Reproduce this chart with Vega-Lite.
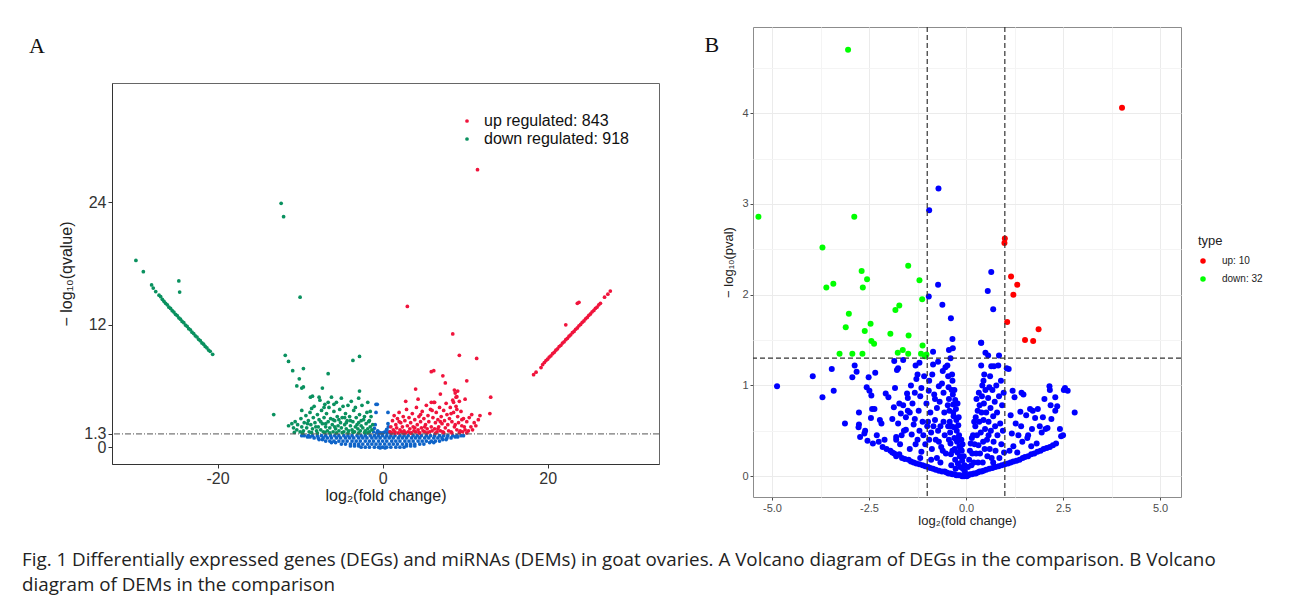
{
"$schema": "https://vega.github.io/schema/vega-lite/v6.json",
"padding": {"left": 22, "top": 25, "right": 5, "bottom": 5},
"background": "white",
"config": {"font": "Liberation Sans", "view": {"stroke": null}},
"title": {"text": ["Fig. 1 Differentially expressed genes (DEGs) and miRNAs (DEMs) in goat ovaries. A Volcano diagram of DEGs in the comparison. B Volcano", "diagram of DEMs in the comparison"], "orient": "bottom", "anchor": "start", "font": "Open Sans", "fontSize": 18.8, "fontWeight": "normal", "color": "#222", "lineHeight": 25, "offset": 23, "dx": -7},
"spacing": 44,
"resolve": {"scale": {"color": "independent", "size": "independent"}, "legend": {"color": "independent"}},
"datasets": {
"ar": [{"y": 1.3}],
"bv": [{"x": -1}, {"x": 1}],
"bh": [{"y": 1.3}],
"a": [
{"x":-0.3,"y":-0.08,"t":"n"},{"x":0.3,"y":-0.08,"t":"n"},
{"x":-2.6,"y":0,"t":"n"},{"x":-2.1,"y":0,"t":"n"},{"x":-1.6,"y":0,"t":"n"},{"x":-1.0,"y":0,"t":"n"},{"x":-0.5,"y":0,"t":"n"},{"x":0,"y":0,"t":"n"},{"x":0.5,"y":0,"t":"n"},{"x":1.0,"y":0,"t":"n"},{"x":1.6,"y":0,"t":"n"},{"x":2.1,"y":0,"t":"n"},{"x":2.6,"y":0,"t":"n"},
{"x":-3.9,"y":0.12,"t":"n"},{"x":-3.4,"y":0.12,"t":"n"},{"x":-2.9,"y":0.12,"t":"n"},{"x":2.9,"y":0.12,"t":"n"},{"x":3.4,"y":0.12,"t":"n"},{"x":3.9,"y":0.12,"t":"n"},
{"x":-5.0,"y":0.3,"t":"n"},{"x":-4.5,"y":0.3,"t":"n"},{"x":-3.9,"y":0.3,"t":"n"},{"x":-3.4,"y":0.3,"t":"n"},{"x":-2.9,"y":0.3,"t":"n"},{"x":-2.4,"y":0.3,"t":"n"},{"x":-1.8,"y":0.3,"t":"n"},{"x":-1.3,"y":0.3,"t":"n"},{"x":-0.8,"y":0.3,"t":"n"},{"x":-0.3,"y":0.3,"t":"n"},{"x":0.25,"y":0.3,"t":"n"},{"x":0.8,"y":0.3,"t":"n"},{"x":1.3,"y":0.3,"t":"n"},{"x":1.8,"y":0.3,"t":"n"},{"x":2.4,"y":0.3,"t":"n"},{"x":2.9,"y":0.3,"t":"n"},{"x":3.4,"y":0.3,"t":"n"},{"x":3.9,"y":0.3,"t":"n"},{"x":4.5,"y":0.3,"t":"n"},{"x":5.0,"y":0.3,"t":"n"},
{"x":-6.2,"y":0.45,"t":"n"},{"x":-5.7,"y":0.45,"t":"n"},{"x":5.7,"y":0.45,"t":"n"},{"x":6.2,"y":0.45,"t":"n"},
{"x":-6.9,"y":0.6,"t":"n"},{"x":-6.4,"y":0.6,"t":"n"},{"x":-5.9,"y":0.6,"t":"n"},{"x":-5.3,"y":0.6,"t":"n"},{"x":-4.8,"y":0.6,"t":"n"},{"x":-4.3,"y":0.6,"t":"n"},{"x":-3.7,"y":0.6,"t":"n"},{"x":-3.2,"y":0.6,"t":"n"},{"x":-2.7,"y":0.6,"t":"n"},{"x":-2.1,"y":0.6,"t":"n"},{"x":-1.6,"y":0.6,"t":"n"},{"x":-1.1,"y":0.6,"t":"n"},{"x":-0.5,"y":0.6,"t":"n"},{"x":0,"y":0.6,"t":"n"},{"x":0.5,"y":0.6,"t":"n"},{"x":1.1,"y":0.6,"t":"n"},{"x":1.6,"y":0.6,"t":"n"},{"x":2.1,"y":0.6,"t":"n"},{"x":2.7,"y":0.6,"t":"n"},{"x":3.2,"y":0.6,"t":"n"},{"x":3.7,"y":0.6,"t":"n"},{"x":4.3,"y":0.6,"t":"n"},{"x":4.8,"y":0.6,"t":"n"},{"x":5.3,"y":0.6,"t":"n"},{"x":5.9,"y":0.6,"t":"n"},{"x":6.4,"y":0.6,"t":"n"},{"x":6.9,"y":0.6,"t":"n"},
{"x":-7.7,"y":0.75,"t":"n"},{"x":-7.3,"y":0.75,"t":"n"},{"x":7.3,"y":0.75,"t":"n"},{"x":7.7,"y":0.75,"t":"n"},
{"x":-8.3,"y":0.9,"t":"n"},{"x":-7.8,"y":0.9,"t":"n"},{"x":-7.2,"y":0.9,"t":"n"},{"x":-6.7,"y":0.9,"t":"n"},{"x":-6.2,"y":0.9,"t":"n"},{"x":-5.6,"y":0.9,"t":"n"},{"x":-5.1,"y":0.9,"t":"n"},{"x":-4.5,"y":0.9,"t":"n"},{"x":-4.0,"y":0.9,"t":"n"},{"x":-3.5,"y":0.9,"t":"n"},{"x":-2.9,"y":0.9,"t":"n"},{"x":-2.4,"y":0.9,"t":"n"},{"x":-1.9,"y":0.9,"t":"n"},{"x":-1.3,"y":0.9,"t":"n"},{"x":-0.8,"y":0.9,"t":"n"},{"x":-0.3,"y":0.9,"t":"n"},{"x":0.3,"y":0.9,"t":"n"},{"x":0.8,"y":0.9,"t":"n"},{"x":1.3,"y":0.9,"t":"n"},{"x":1.9,"y":0.9,"t":"n"},{"x":2.4,"y":0.9,"t":"n"},{"x":2.9,"y":0.9,"t":"n"},{"x":3.5,"y":0.9,"t":"n"},{"x":4.0,"y":0.9,"t":"n"},{"x":4.5,"y":0.9,"t":"n"},{"x":5.1,"y":0.9,"t":"n"},{"x":5.6,"y":0.9,"t":"n"},{"x":6.2,"y":0.9,"t":"n"},{"x":6.7,"y":0.9,"t":"n"},{"x":7.2,"y":0.9,"t":"n"},{"x":7.8,"y":0.9,"t":"n"},{"x":8.3,"y":0.9,"t":"n"},
{"x":-9.1,"y":1.0,"t":"n"},{"x":-8.8,"y":1.0,"t":"n"},{"x":8.8,"y":1.0,"t":"n"},{"x":9.1,"y":1.0,"t":"n"},
{"x":-9.8,"y":1.12,"t":"n"},{"x":-9.5,"y":1.12,"t":"n"},{"x":-9.0,"y":1.12,"t":"n"},{"x":-8.5,"y":1.12,"t":"n"},{"x":-7.9,"y":1.12,"t":"n"},{"x":-7.4,"y":1.12,"t":"n"},{"x":-6.9,"y":1.12,"t":"n"},{"x":-6.3,"y":1.12,"t":"n"},{"x":-5.8,"y":1.12,"t":"n"},{"x":-5.3,"y":1.12,"t":"n"},{"x":-4.7,"y":1.12,"t":"n"},{"x":-4.2,"y":1.12,"t":"n"},{"x":-3.7,"y":1.12,"t":"n"},{"x":-3.1,"y":1.12,"t":"n"},{"x":-2.6,"y":1.12,"t":"n"},{"x":-2.1,"y":1.12,"t":"n"},{"x":-1.5,"y":1.12,"t":"n"},{"x":-1.0,"y":1.12,"t":"n"},{"x":-0.5,"y":1.12,"t":"n"},{"x":0,"y":1.12,"t":"n"},{"x":0.5,"y":1.12,"t":"n"},{"x":1.0,"y":1.12,"t":"n"},{"x":1.5,"y":1.12,"t":"n"},{"x":2.1,"y":1.12,"t":"n"},{"x":2.6,"y":1.12,"t":"n"},{"x":3.1,"y":1.12,"t":"n"},{"x":3.7,"y":1.12,"t":"n"},{"x":4.2,"y":1.12,"t":"n"},{"x":4.7,"y":1.12,"t":"n"},{"x":5.3,"y":1.12,"t":"n"},{"x":5.8,"y":1.12,"t":"n"},{"x":6.3,"y":1.12,"t":"n"},{"x":6.9,"y":1.12,"t":"n"},{"x":7.4,"y":1.12,"t":"n"},{"x":7.9,"y":1.12,"t":"n"},{"x":8.5,"y":1.12,"t":"n"},{"x":9.0,"y":1.12,"t":"n"},{"x":9.5,"y":1.12,"t":"n"},{"x":9.8,"y":1.12,"t":"n"},
{"x":-0.8,"y":4.2,"t":"n"},{"x":-0.65,"y":4.2,"t":"n"},{"x":-0.8,"y":3.4,"t":"n"},{"x":0.65,"y":3.4,"t":"n"},{"x":0.65,"y":2.3,"t":"n"},{"x":-0.9,"y":2.2,"t":"n"},{"x":-1.0,"y":1.85,"t":"n"},{"x":-0.6,"y":1.6,"t":"n"},{"x":0.5,"y":1.75,"t":"n"},{"x":0.3,"y":1.5,"t":"n"},{"x":-0.4,"y":1.45,"t":"n"},{"x":0.8,"y":1.5,"t":"n"},{"x":-1.1,"y":1.5,"t":"n"},{"x":0.7,"y":2.0,"t":"n"},{"x":-0.2,"y":1.4,"t":"n"},{"x":0.1,"y":1.42,"t":"n"},{"x":-0.7,"y":1.4,"t":"n"},{"x":0.55,"y":1.4,"t":"n"},
{"x":-12.3,"y":23.9,"t":"d"},{"x":-12.0,"y":22.6,"t":"d"},{"x":-10.0,"y":14.7,"t":"d"},{"x":-11.8,"y":9.0,"t":"d"},{"x":-11.4,"y":8.4,"t":"d"},{"x":-10.9,"y":7.5,"t":"d"},{"x":-9.6,"y":7.7,"t":"d"},{"x":-10.1,"y":6.7,"t":"d"},{"x":-10.4,"y":6.0,"t":"d"},{"x":-9.8,"y":5.8,"t":"d"},{"x":-9.6,"y":5.9,"t":"d"},{"x":-6.6,"y":7.2,"t":"d"},{"x":-3.6,"y":8.5,"t":"d"},{"x":-2.8,"y":8.9,"t":"d"},{"x":-2.8,"y":5.5,"t":"d"},{"x":-13.2,"y":3.2,"t":"d"},{"x":-7.3,"y":5.8,"t":"d"},{"x":-1.8,"y":4.4,"t":"d"},
{"x":-29.9,"y":18.3,"t":"d"},{"x":-29.0,"y":17.2,"t":"d"},{"x":-28.0,"y":15.9,"t":"d"},{"x":-27.8,"y":15.6,"t":"d"},{"x":-27.5,"y":15.25,"t":"d"},{"x":-27.1,"y":14.9,"t":"d"},{"x":-26.9,"y":14.75,"t":"d"},{"x":-26.7,"y":14.5,"t":"d"},{"x":-26.5,"y":14.3,"t":"d"},{"x":-24.7,"y":16.3,"t":"d"},{"x":-24.6,"y":15.2,"t":"d"},
{"x":-26.3,"y":14.1,"t":"d"},{"x":-26.1,"y":13.95,"t":"d"},{"x":-25.9,"y":13.72,"t":"d"},{"x":-25.7,"y":13.6,"t":"d"},{"x":-25.5,"y":13.38,"t":"d"},{"x":-25.3,"y":13.25,"t":"d"},{"x":-25.1,"y":13.02,"t":"d"},{"x":-24.9,"y":12.9,"t":"d"},{"x":-24.7,"y":12.68,"t":"d"},{"x":-24.5,"y":12.55,"t":"d"},{"x":-24.3,"y":12.33,"t":"d"},{"x":-24.1,"y":12.2,"t":"d"},{"x":-23.9,"y":11.97,"t":"d"},{"x":-23.7,"y":11.85,"t":"d"},{"x":-23.5,"y":11.62,"t":"d"},{"x":-23.3,"y":11.5,"t":"d"},{"x":-23.1,"y":11.27,"t":"d"},{"x":-22.9,"y":11.14,"t":"d"},{"x":-22.7,"y":10.92,"t":"d"},{"x":-22.5,"y":10.8,"t":"d"},{"x":-22.3,"y":10.57,"t":"d"},{"x":-22.1,"y":10.44,"t":"d"},{"x":-21.9,"y":10.22,"t":"d"},{"x":-21.7,"y":10.1,"t":"d"},{"x":-21.5,"y":9.87,"t":"d"},{"x":-21.3,"y":9.74,"t":"d"},{"x":-21.1,"y":9.52,"t":"d"},{"x":-20.9,"y":9.4,"t":"d"},{"x":-20.6,"y":9.1,"t":"d"},
{"x":-11.4,"y":2.1,"t":"d"},{"x":-11.0,"y":2.3,"t":"d"},{"x":-10.8,"y":1.9,"t":"d"},{"x":-10.6,"y":2.5,"t":"d"},{"x":-10.4,"y":1.7,"t":"d"},{"x":-10.3,"y":2.2,"t":"d"},{"x":-10.0,"y":1.5,"t":"d"},{"x":-9.9,"y":2.8,"t":"d"},{"x":-9.8,"y":2.0,"t":"d"},{"x":-9.6,"y":1.6,"t":"d"},{"x":-9.5,"y":2.4,"t":"d"},{"x":-9.3,"y":3.1,"t":"d"},{"x":-9.2,"y":1.9,"t":"d"},{"x":-9.0,"y":2.6,"t":"d"},{"x":-8.9,"y":1.5,"t":"d"},{"x":-8.8,"y":3.4,"t":"d"},{"x":-8.7,"y":2.2,"t":"d"},{"x":-8.5,"y":1.8,"t":"d"},{"x":-8.4,"y":2.9,"t":"d"},{"x":-8.3,"y":4.0,"t":"d"},{"x":-8.2,"y":2.4,"t":"d"},{"x":-8.0,"y":1.6,"t":"d"},{"x":-7.9,"y":3.2,"t":"d"},{"x":-7.8,"y":2.0,"t":"d"},{"x":-7.7,"y":2.7,"t":"d"},{"x":-7.6,"y":4.6,"t":"d"},{"x":-7.5,"y":1.7,"t":"d"},{"x":-7.4,"y":3.6,"t":"d"},{"x":-7.3,"y":2.3,"t":"d"},{"x":-7.2,"y":1.5,"t":"d"},{"x":-7.1,"y":2.9,"t":"d"},{"x":-7.0,"y":4.2,"t":"d"},{"x":-6.9,"y":2.0,"t":"d"},{"x":-6.8,"y":3.3,"t":"d"},{"x":-6.7,"y":1.6,"t":"d"},{"x":-6.6,"y":2.5,"t":"d"},{"x":-6.5,"y":3.9,"t":"d"},{"x":-6.4,"y":1.9,"t":"d"},{"x":-6.3,"y":2.8,"t":"d"},{"x":-6.2,"y":4.9,"t":"d"},{"x":-6.1,"y":2.2,"t":"d"},{"x":-6.0,"y":1.5,"t":"d"},{"x":-5.9,"y":3.5,"t":"d"},{"x":-5.8,"y":2.6,"t":"d"},{"x":-5.7,"y":1.8,"t":"d"},{"x":-5.6,"y":4.4,"t":"d"},{"x":-5.5,"y":3.0,"t":"d"},{"x":-5.4,"y":2.1,"t":"d"},{"x":-5.3,"y":1.6,"t":"d"},{"x":-5.2,"y":3.7,"t":"d"},{"x":-5.1,"y":2.4,"t":"d"},{"x":-5.0,"y":1.9,"t":"d"},{"x":-4.9,"y":2.9,"t":"d"},{"x":-4.8,"y":4.0,"t":"d"},{"x":-4.7,"y":1.5,"t":"d"},{"x":-4.6,"y":2.2,"t":"d"},{"x":-4.5,"y":3.3,"t":"d"},{"x":-4.4,"y":1.8,"t":"d"},{"x":-4.3,"y":2.6,"t":"d"},{"x":-4.1,"y":1.6,"t":"d"},{"x":-4.0,"y":3.0,"t":"d"},{"x":-3.9,"y":2.1,"t":"d"},{"x":-3.8,"y":4.5,"t":"d"},{"x":-3.7,"y":1.7,"t":"d"},{"x":-3.6,"y":2.5,"t":"d"},{"x":-3.5,"y":3.6,"t":"d"},{"x":-3.4,"y":1.5,"t":"d"},{"x":-3.3,"y":2.0,"t":"d"},{"x":-3.2,"y":2.9,"t":"d"},{"x":-3.0,"y":1.8,"t":"d"},{"x":-2.9,"y":2.4,"t":"d"},{"x":-2.8,"y":3.2,"t":"d"},{"x":-2.7,"y":1.6,"t":"d"},{"x":-2.6,"y":2.1,"t":"d"},{"x":-2.5,"y":4.1,"t":"d"},{"x":-2.4,"y":1.9,"t":"d"},{"x":-2.3,"y":2.7,"t":"d"},{"x":-2.1,"y":1.6,"t":"d"},{"x":-2.0,"y":2.3,"t":"d"},{"x":-1.9,"y":3.4,"t":"d"},{"x":-1.8,"y":1.8,"t":"d"},{"x":-1.7,"y":2.5,"t":"d"},{"x":-1.6,"y":1.5,"t":"d"},{"x":-1.5,"y":2.0,"t":"d"},{"x":-1.4,"y":3.0,"t":"d"},{"x":-1.3,"y":1.7,"t":"d"},{"x":-1.2,"y":2.2,"t":"d"},
{"x":-10.7,"y":1.45,"t":"d"},{"x":-9.7,"y":1.4,"t":"d"},{"x":-8.6,"y":1.42,"t":"d"},{"x":-7.9,"y":1.38,"t":"d"},{"x":-7.0,"y":1.45,"t":"d"},{"x":-6.4,"y":1.4,"t":"d"},{"x":-5.6,"y":1.4,"t":"d"},{"x":-4.9,"y":1.42,"t":"d"},{"x":-4.2,"y":1.4,"t":"d"},{"x":-3.6,"y":1.45,"t":"d"},{"x":-2.9,"y":1.4,"t":"d"},{"x":-2.2,"y":1.42,"t":"d"},{"x":-1.8,"y":1.4,"t":"d"},{"x":-8.1,"y":2.0,"t":"d"},{"x":-6.9,"y":2.3,"t":"d"},{"x":-5.8,"y":2.0,"t":"d"},{"x":-4.4,"y":2.4,"t":"d"},{"x":-3.1,"y":2.2,"t":"d"},{"x":-9.1,"y":2.3,"t":"d"},{"x":-7.5,"y":2.5,"t":"d"},{"x":-6.0,"y":2.7,"t":"d"},{"x":-5.3,"y":2.7,"t":"d"},{"x":-4.6,"y":2.9,"t":"d"},{"x":-3.9,"y":2.6,"t":"d"},{"x":-2.6,"y":2.6,"t":"d"},{"x":-2.2,"y":3.0,"t":"d"},{"x":-1.6,"y":2.6,"t":"d"},{"x":-9.8,"y":3.6,"t":"d"},{"x":-8.6,"y":3.8,"t":"d"},{"x":-7.1,"y":3.9,"t":"d"},{"x":-6.6,"y":4.4,"t":"d"},{"x":-5.9,"y":4.2,"t":"d"},{"x":-5.0,"y":4.8,"t":"d"},{"x":-4.2,"y":4.1,"t":"d"},{"x":-3.3,"y":3.9,"t":"d"},{"x":-2.9,"y":4.8,"t":"d"},{"x":-1.5,"y":3.5,"t":"d"},{"x":-8.75,"y":4.9,"t":"d"},{"x":-8.5,"y":5.0,"t":"d"},{"x":-7.7,"y":4.9,"t":"d"},
{"x":11.5,"y":27.2,"t":"u"},{"x":3.0,"y":13.8,"t":"u"},{"x":8.5,"y":11.1,"t":"u"},{"x":9.3,"y":9.0,"t":"u"},{"x":11.4,"y":8.7,"t":"u"},{"x":5.9,"y":7.4,"t":"u"},{"x":6.2,"y":7.5,"t":"u"},{"x":7.3,"y":7.0,"t":"u"},{"x":10.2,"y":6.5,"t":"u"},{"x":7.6,"y":6.3,"t":"u"},{"x":4.0,"y":5.7,"t":"u"},{"x":8.7,"y":5.6,"t":"u"},{"x":4.3,"y":4.7,"t":"u"},{"x":2.8,"y":4.5,"t":"u"},{"x":13.1,"y":4.9,"t":"u"},{"x":13.0,"y":3.3,"t":"u"},{"x":10.0,"y":4.7,"t":"u"},{"x":8.8,"y":5.3,"t":"u"},{"x":9.0,"y":4.95,"t":"u"},{"x":9.1,"y":5.5,"t":"u"},{"x":7.0,"y":5.2,"t":"u"},{"x":5.9,"y":4.4,"t":"u"},{"x":6.3,"y":4.4,"t":"u"},
{"x":18.3,"y":7.1,"t":"u"},{"x":18.6,"y":7.35,"t":"u"},{"x":19.2,"y":7.8,"t":"u"},{"x":19.4,"y":8.1,"t":"u"},{"x":26.9,"y":14.7,"t":"u"},{"x":27.6,"y":15.3,"t":"u"},{"x":27.3,"y":15.0,"t":"u"},{"x":23.6,"y":14.1,"t":"u"},{"x":23.8,"y":14.2,"t":"u"},{"x":22.2,"y":12.0,"t":"u"},
{"x":19.6,"y":8.3,"t":"u"},{"x":19.8,"y":8.49,"t":"u"},{"x":20.0,"y":8.62,"t":"u"},{"x":20.2,"y":8.83,"t":"u"},{"x":20.4,"y":8.96,"t":"u"},{"x":20.6,"y":9.17,"t":"u"},{"x":20.8,"y":9.3,"t":"u"},{"x":21.0,"y":9.51,"t":"u"},{"x":21.2,"y":9.64,"t":"u"},{"x":21.4,"y":9.86,"t":"u"},{"x":21.6,"y":9.99,"t":"u"},{"x":21.8,"y":10.2,"t":"u"},{"x":22.0,"y":10.33,"t":"u"},{"x":22.2,"y":10.54,"t":"u"},{"x":22.4,"y":10.67,"t":"u"},{"x":22.6,"y":10.88,"t":"u"},{"x":22.8,"y":11.01,"t":"u"},{"x":23.0,"y":11.22,"t":"u"},{"x":23.2,"y":11.35,"t":"u"},{"x":23.4,"y":11.56,"t":"u"},{"x":23.6,"y":11.69,"t":"u"},{"x":23.8,"y":11.9,"t":"u"},{"x":24.0,"y":12.03,"t":"u"},{"x":24.2,"y":12.24,"t":"u"},{"x":24.4,"y":12.37,"t":"u"},{"x":24.6,"y":12.58,"t":"u"},{"x":24.8,"y":12.72,"t":"u"},{"x":25.0,"y":12.93,"t":"u"},{"x":25.2,"y":13.06,"t":"u"},{"x":25.4,"y":13.27,"t":"u"},{"x":25.6,"y":13.4,"t":"u"},{"x":25.8,"y":13.61,"t":"u"},{"x":26.0,"y":13.74,"t":"u"},{"x":26.2,"y":13.95,"t":"u"},{"x":26.4,"y":14.1,"t":"u"},
{"x":0.9,"y":1.5,"t":"u"},{"x":1.0,"y":2.0,"t":"u"},{"x":1.1,"y":1.4,"t":"u"},{"x":1.2,"y":2.6,"t":"u"},{"x":1.3,"y":1.7,"t":"u"},{"x":1.4,"y":3.1,"t":"u"},{"x":1.5,"y":1.5,"t":"u"},{"x":1.6,"y":2.2,"t":"u"},{"x":1.7,"y":1.9,"t":"u"},{"x":1.8,"y":2.8,"t":"u"},{"x":1.9,"y":1.4,"t":"u"},{"x":2.0,"y":3.4,"t":"u"},{"x":2.1,"y":1.7,"t":"u"},{"x":2.2,"y":2.4,"t":"u"},{"x":2.3,"y":1.5,"t":"u"},{"x":2.4,"y":2.0,"t":"u"},{"x":2.5,"y":3.0,"t":"u"},{"x":2.6,"y":1.6,"t":"u"},{"x":2.7,"y":2.6,"t":"u"},{"x":2.8,"y":1.4,"t":"u"},{"x":2.9,"y":3.7,"t":"u"},{"x":3.0,"y":2.1,"t":"u"},{"x":3.1,"y":1.5,"t":"u"},{"x":3.2,"y":2.9,"t":"u"},{"x":3.3,"y":1.8,"t":"u"},{"x":3.4,"y":2.4,"t":"u"},{"x":3.5,"y":1.4,"t":"u"},{"x":3.6,"y":3.3,"t":"u"},{"x":3.7,"y":2.0,"t":"u"},{"x":3.8,"y":1.6,"t":"u"},{"x":3.9,"y":2.7,"t":"u"},{"x":4.0,"y":1.5,"t":"u"},{"x":4.1,"y":3.9,"t":"u"},{"x":4.2,"y":2.2,"t":"u"},{"x":4.3,"y":1.7,"t":"u"},{"x":4.4,"y":3.0,"t":"u"},{"x":4.5,"y":1.4,"t":"u"},{"x":4.6,"y":2.5,"t":"u"},{"x":4.7,"y":1.9,"t":"u"},{"x":4.8,"y":3.5,"t":"u"},{"x":4.9,"y":1.6,"t":"u"},{"x":5.0,"y":2.8,"t":"u"},{"x":5.1,"y":1.5,"t":"u"},{"x":5.2,"y":2.2,"t":"u"},{"x":5.3,"y":4.1,"t":"u"},{"x":5.4,"y":1.8,"t":"u"},{"x":5.5,"y":3.1,"t":"u"},{"x":5.6,"y":2.5,"t":"u"},{"x":5.7,"y":1.5,"t":"u"},{"x":5.8,"y":3.7,"t":"u"},{"x":5.9,"y":2.0,"t":"u"},{"x":6.0,"y":1.6,"t":"u"},{"x":6.1,"y":2.9,"t":"u"},{"x":6.2,"y":4.4,"t":"u"},{"x":6.3,"y":1.8,"t":"u"},{"x":6.4,"y":2.4,"t":"u"},{"x":6.5,"y":3.4,"t":"u"},{"x":6.6,"y":1.5,"t":"u"},{"x":6.7,"y":2.7,"t":"u"},{"x":6.8,"y":2.0,"t":"u"},{"x":6.9,"y":3.9,"t":"u"},{"x":7.0,"y":1.6,"t":"u"},{"x":7.1,"y":3.0,"t":"u"},{"x":7.2,"y":2.3,"t":"u"},{"x":7.3,"y":1.5,"t":"u"},{"x":7.4,"y":3.6,"t":"u"},{"x":7.5,"y":2.6,"t":"u"},{"x":7.6,"y":1.9,"t":"u"},{"x":7.7,"y":4.3,"t":"u"},{"x":7.8,"y":3.2,"t":"u"},{"x":7.9,"y":2.2,"t":"u"},{"x":8.0,"y":1.6,"t":"u"},{"x":8.1,"y":2.8,"t":"u"},{"x":8.2,"y":3.9,"t":"u"},{"x":8.3,"y":1.5,"t":"u"},{"x":8.4,"y":2.5,"t":"u"},{"x":8.5,"y":4.6,"t":"u"},{"x":8.6,"y":3.4,"t":"u"},{"x":8.7,"y":2.0,"t":"u"},{"x":8.9,"y":4.0,"t":"u"},{"x":9.0,"y":1.7,"t":"u"},{"x":9.1,"y":3.0,"t":"u"},{"x":9.2,"y":2.4,"t":"u"},{"x":9.3,"y":4.5,"t":"u"},{"x":9.4,"y":1.6,"t":"u"},{"x":9.5,"y":3.5,"t":"u"},{"x":9.6,"y":2.1,"t":"u"},{"x":9.7,"y":1.5,"t":"u"},{"x":9.8,"y":2.8,"t":"u"},{"x":9.9,"y":2.0,"t":"u"},{"x":10.0,"y":1.7,"t":"u"},{"x":10.2,"y":2.5,"t":"u"},{"x":10.4,"y":1.6,"t":"u"},{"x":10.5,"y":2.9,"t":"u"},{"x":10.7,"y":2.0,"t":"u"},{"x":10.9,"y":1.7,"t":"u"},{"x":11.1,"y":2.4,"t":"u"},{"x":11.3,"y":2.1,"t":"u"},{"x":11.6,"y":2.7,"t":"u"},{"x":11.8,"y":3.1,"t":"u"},{"x":10.8,"y":3.2,"t":"u"},
{"x":1.5,"y":1.38,"t":"u"},{"x":2.5,"y":1.4,"t":"u"},{"x":3.4,"y":1.38,"t":"u"},{"x":4.4,"y":1.42,"t":"u"},{"x":5.4,"y":1.4,"t":"u"},{"x":6.4,"y":1.38,"t":"u"},{"x":7.4,"y":1.42,"t":"u"},{"x":8.4,"y":1.4,"t":"u"},{"x":9.3,"y":1.42,"t":"u"},{"x":10.2,"y":1.4,"t":"u"},{"x":3.9,"y":1.9,"t":"u"},{"x":5.1,"y":2.0,"t":"u"},{"x":6.7,"y":1.8,"t":"u"},{"x":8.8,"y":2.2,"t":"u"},{"x":9.6,"y":2.7,"t":"u"},{"x":7.0,"y":2.5,"t":"u"},{"x":2.0,"y":2.5,"t":"u"},{"x":4.6,"y":3.2,"t":"u"},{"x":6.0,"y":3.6,"t":"u"},{"x":8.3,"y":3.3,"t":"u"},{"x":9.0,"y":3.7,"t":"u"},{"x":8.6,"y":4.4,"t":"u"},{"x":8.9,"y":4.9,"t":"u"}
],
"b": [
{"x":-4.87,"y":0.99,"t":"n"},{"x":-3.95,"y":1.10,"t":"n"},{"x":-3.70,"y":0.87,"t":"n"},{"x":-3.46,"y":1.18,"t":"n"},{"x":-3.41,"y":0.94,"t":"n"},{"x":-3.12,"y":0.58,"t":"n"},
{"x":-2.87,"y":1.22,"t":"n"},{"x":-2.82,"y":1.15,"t":"n"},{"x":-2.93,"y":1.09,"t":"n"},{"x":-2.76,"y":0.70,"t":"n"},{"x":-2.76,"y":0.57,"t":"n"},{"x":-2.77,"y":0.54,"t":"n"},{"x":-2.73,"y":0.43,"t":"n"},{"x":-2.56,"y":0.98,"t":"n"},{"x":-2.51,"y":1.09,"t":"n"},{"x":-2.6,"y":0.50,"t":"n"},{"x":-2.54,"y":0.39,"t":"n"},{"x":-2.62,"y":0.47,"t":"n"},
{"x":-2.49,"y":0.94,"t":"n"},{"x":-2.44,"y":0.89,"t":"n"},{"x":-2.42,"y":0.74,"t":"n"},{"x":-2.36,"y":0.74,"t":"n"},{"x":-2.34,"y":1.14,"t":"n"},{"x":-2.45,"y":0.64,"t":"n"},{"x":-2.40,"y":0.36,"t":"n"},{"x":-2.3,"y":0.45,"t":"n"},{"x":-2.22,"y":0.62,"t":"n"},{"x":-2.18,"y":0.58,"t":"n"},{"x":-2.07,"y":0.91,"t":"n"},{"x":-2.0,"y":0.87,"t":"n"},{"x":-2.15,"y":0.32,"t":"n"},{"x":-2.05,"y":0.30,"t":"n"},{"x":-2.1,"y":0.40,"t":"n"},{"x":-2.25,"y":0.38,"t":"n"},
{"x":-1.95,"y":0.28,"t":"n"},{"x":-1.9,"y":0.26,"t":"n"},{"x":-1.85,"y":0.25,"t":"n"},{"x":-1.8,"y":0.22,"t":"n"},{"x":-1.72,"y":0.24,"t":"n"},{"x":-1.65,"y":0.20,"t":"n"},{"x":-1.58,"y":0.19,"t":"n"},{"x":-1.86,"y":0.76,"t":"n"},{"x":-1.83,"y":0.97,"t":"n"},{"x":-1.85,"y":1.27,"t":"n"},{"x":-1.78,"y":1.17,"t":"n"},{"x":-1.75,"y":1.19,"t":"n"},{"x":-1.72,"y":0.80,"t":"n"},{"x":-1.68,"y":0.69,"t":"n"},{"x":-1.62,"y":0.78,"t":"n"},{"x":-1.55,"y":0.51,"t":"n"},{"x":-1.6,"y":0.50,"t":"n"},{"x":-1.66,"y":0.45,"t":"n"},{"x":-1.8,"y":0.40,"t":"n"},{"x":-1.7,"y":0.35,"t":"n"},{"x":-1.52,"y":0.91,"t":"n"},{"x":-1.50,"y":0.86,"t":"n"},{"x":-1.55,"y":0.65,"t":"n"},{"x":-1.5,"y":0.72,"t":"n"},{"x":-1.9,"y":0.63,"t":"n"},{"x":-1.75,"y":0.58,"t":"n"},{"x":-1.62,"y":1.28,"t":"n"},{"x":-1.8,"y":0.43,"t":"n"},
{"x":-1.48,"y":0.18,"t":"n"},{"x":-1.42,"y":0.16,"t":"n"},{"x":-1.35,"y":0.15,"t":"n"},{"x":-1.28,"y":0.14,"t":"n"},{"x":-1.2,"y":0.13,"t":"n"},{"x":-1.12,"y":0.12,"t":"n"},{"x":-1.05,"y":0.11,"t":"n"},{"x":-1.45,"y":0.30,"t":"n"},{"x":-1.40,"y":0.46,"t":"n"},{"x":-1.35,"y":0.57,"t":"n"},{"x":-1.38,"y":0.80,"t":"n"},{"x":-1.32,"y":0.63,"t":"n"},{"x":-1.3,"y":0.35,"t":"n"},{"x":-1.25,"y":1.12,"t":"n"},{"x":-1.28,"y":1.07,"t":"n"},{"x":-1.22,"y":0.72,"t":"n"},{"x":-1.2,"y":0.50,"t":"n"},{"x":-1.18,"y":0.88,"t":"n"},{"x":-1.15,"y":0.97,"t":"n"},{"x":-1.12,"y":0.60,"t":"n"},{"x":-1.1,"y":0.45,"t":"n"},{"x":-1.15,"y":0.27,"t":"n"},{"x":-1.08,"y":1.10,"t":"n"},{"x":-1.05,"y":0.35,"t":"n"},{"x":-1.42,"y":1.00,"t":"n"},{"x":-1.32,"y":0.92,"t":"n"},{"x":-1.25,"y":0.40,"t":"n"},{"x":-1.45,"y":0.70,"t":"n"},{"x":-1.02,"y":0.80,"t":"n"},{"x":-1.0,"y":0.55,"t":"n"},{"x":-1.2,"y":1.25,"t":"n"},{"x":-1.3,"y":1.22,"t":"n"},{"x":-1.18,"y":0.20,"t":"n"},
{"x":-0.98,"y":0.10,"t":"n"},{"x":-0.92,"y":0.09,"t":"n"},{"x":-0.85,"y":0.08,"t":"n"},{"x":-0.78,"y":0.07,"t":"n"},{"x":-0.7,"y":0.06,"t":"n"},{"x":-0.62,"y":0.05,"t":"n"},{"x":-0.55,"y":0.05,"t":"n"},{"x":-0.95,"y":1.05,"t":"n"},{"x":-0.96,"y":0.94,"t":"n"},{"x":-0.92,"y":0.70,"t":"n"},{"x":-0.9,"y":0.48,"t":"n"},{"x":-0.88,"y":0.30,"t":"n"},{"x":-0.85,"y":1.23,"t":"n"},{"x":-0.82,"y":0.90,"t":"n"},{"x":-0.8,"y":0.62,"t":"n"},{"x":-0.78,"y":0.40,"t":"n"},{"x":-0.75,"y":0.20,"t":"n"},{"x":-0.72,"y":1.26,"t":"n"},{"x":-0.7,"y":0.99,"t":"n"},{"x":-0.68,"y":0.82,"t":"n"},{"x":-0.66,"y":0.55,"t":"n"},{"x":-0.64,"y":0.32,"t":"n"},{"x":-0.6,"y":1.16,"t":"n"},{"x":-0.58,"y":0.92,"t":"n"},{"x":-0.56,"y":0.70,"t":"n"},{"x":-0.55,"y":0.45,"t":"n"},{"x":-0.52,"y":0.25,"t":"n"},{"x":-0.62,"y":1.02,"t":"n"},{"x":-0.75,"y":0.75,"t":"n"},{"x":-0.84,"y":0.55,"t":"n"},{"x":-0.9,"y":0.18,"t":"n"},{"x":-0.66,"y":0.15,"t":"n"},{"x":-0.58,"y":0.60,"t":"n"},{"x":-0.7,"y":0.38,"t":"n"},{"x":-0.8,"y":0.85,"t":"n"},{"x":-0.95,"y":0.40,"t":"n"},{"x":-0.98,"y":0.60,"t":"n"},{"x":-0.72,"y":0.50,"t":"n"},{"x":-0.6,"y":0.28,"t":"n"},{"x":-0.87,"y":1.12,"t":"n"},{"x":-0.53,"y":1.20,"t":"n"},
{"x":-0.5,"y":0.04,"t":"n"},{"x":-0.45,"y":0.03,"t":"n"},{"x":-0.4,"y":0.03,"t":"n"},{"x":-0.35,"y":0.02,"t":"n"},{"x":-0.3,"y":0.02,"t":"n"},{"x":-0.25,"y":0.01,"t":"n"},{"x":-0.2,"y":0.01,"t":"n"},{"x":-0.15,"y":0.01,"t":"n"},{"x":-0.1,"y":0.0,"t":"n"},{"x":-0.05,"y":0.0,"t":"n"},{"x":-0.48,"y":1.22,"t":"n"},{"x":-0.46,"y":1.10,"t":"n"},{"x":-0.45,"y":0.98,"t":"n"},{"x":-0.44,"y":0.85,"t":"n"},{"x":-0.43,"y":0.72,"t":"n"},{"x":-0.42,"y":0.60,"t":"n"},{"x":-0.41,"y":0.48,"t":"n"},{"x":-0.40,"y":0.36,"t":"n"},{"x":-0.39,"y":0.24,"t":"n"},{"x":-0.38,"y":0.12,"t":"n"},{"x":-0.36,"y":1.12,"t":"n"},{"x":-0.35,"y":1.05,"t":"n"},{"x":-0.34,"y":0.90,"t":"n"},{"x":-0.33,"y":0.79,"t":"n"},{"x":-0.32,"y":0.66,"t":"n"},{"x":-0.31,"y":0.54,"t":"n"},{"x":-0.30,"y":0.42,"t":"n"},{"x":-0.29,"y":0.30,"t":"n"},{"x":-0.28,"y":0.18,"t":"n"},{"x":-0.27,"y":0.08,"t":"n"},{"x":-0.26,"y":0.74,"t":"n"},{"x":-0.25,"y":0.62,"t":"n"},{"x":-0.24,"y":0.50,"t":"n"},{"x":-0.23,"y":0.38,"t":"n"},{"x":-0.22,"y":0.26,"t":"n"},{"x":-0.21,"y":0.14,"t":"n"},{"x":-0.2,"y":0.56,"t":"n"},{"x":-0.18,"y":0.45,"t":"n"},{"x":-0.17,"y":0.33,"t":"n"},{"x":-0.16,"y":0.22,"t":"n"},{"x":-0.15,"y":0.10,"t":"n"},{"x":-0.12,"y":0.40,"t":"n"},{"x":-0.11,"y":0.28,"t":"n"},{"x":-0.10,"y":0.17,"t":"n"},{"x":-0.08,"y":0.08,"t":"n"},{"x":-0.06,"y":0.22,"t":"n"},{"x":-0.04,"y":0.12,"t":"n"},{"x":-0.03,"y":0.05,"t":"n"},{"x":-0.37,"y":0.95,"t":"n"},{"x":-0.47,"y":0.78,"t":"n"},{"x":-0.28,"y":0.84,"t":"n"},{"x":-0.33,"y":0.70,"t":"n"},{"x":-0.38,"y":0.55,"t":"n"},{"x":-0.44,"y":0.40,"t":"n"},{"x":-0.35,"y":0.28,"t":"n"},{"x":-0.25,"y":0.40,"t":"n"},{"x":-0.19,"y":0.65,"t":"n"},{"x":-0.30,"y":0.95,"t":"n"},{"x":-0.40,"y":1.30,"t":"n"},{"x":-0.46,"y":0.55,"t":"n"},{"x":-0.14,"y":0.30,"t":"n"},{"x":-0.09,"y":0.35,"t":"n"},{"x":-0.22,"y":0.80,"t":"n"},
{"x":0.02,"y":0.0,"t":"n"},{"x":0.06,"y":0.01,"t":"n"},{"x":0.1,"y":0.02,"t":"n"},{"x":0.15,"y":0.02,"t":"n"},{"x":0.2,"y":0.03,"t":"n"},{"x":0.25,"y":0.03,"t":"n"},{"x":0.3,"y":0.04,"t":"n"},{"x":0.35,"y":0.05,"t":"n"},{"x":0.4,"y":0.05,"t":"n"},{"x":0.45,"y":0.06,"t":"n"},{"x":0.05,"y":0.1,"t":"n"},{"x":0.08,"y":0.18,"t":"n"},{"x":0.1,"y":0.28,"t":"n"},{"x":0.12,"y":0.36,"t":"n"},{"x":0.14,"y":0.12,"t":"n"},{"x":0.16,"y":0.25,"t":"n"},{"x":0.18,"y":0.45,"t":"n"},{"x":0.2,"y":0.15,"t":"n"},{"x":0.22,"y":0.35,"t":"n"},{"x":0.24,"y":0.55,"t":"n"},{"x":0.25,"y":0.65,"t":"n"},{"x":0.26,"y":0.25,"t":"n"},{"x":0.28,"y":0.45,"t":"n"},{"x":0.3,"y":0.72,"t":"n"},{"x":0.31,"y":0.15,"t":"n"},{"x":0.32,"y":0.34,"t":"n"},{"x":0.34,"y":0.60,"t":"n"},{"x":0.35,"y":0.78,"t":"n"},{"x":0.36,"y":0.25,"t":"n"},{"x":0.38,"y":0.48,"t":"n"},{"x":0.4,"y":0.70,"t":"n"},{"x":0.41,"y":0.88,"t":"n"},{"x":0.42,"y":1.00,"t":"n"},{"x":0.43,"y":0.15,"t":"n"},{"x":0.44,"y":0.38,"t":"n"},{"x":0.45,"y":0.62,"t":"n"},{"x":0.46,"y":0.80,"t":"n"},{"x":0.47,"y":1.12,"t":"n"},{"x":0.48,"y":0.30,"t":"n"},{"x":0.49,"y":0.52,"t":"n"},{"x":0.39,"y":1.22,"t":"n"},{"x":0.45,"y":1.05,"t":"n"},{"x":0.33,"y":0.92,"t":"n"},{"x":0.27,"y":0.85,"t":"n"},{"x":0.21,"y":0.60,"t":"n"},{"x":0.15,"y":0.42,"t":"n"},{"x":0.39,"y":1.47,"t":"n"},{"x":0.5,"y":0.95,"t":"n"},
{"x":0.52,"y":0.07,"t":"n"},{"x":0.6,"y":0.08,"t":"n"},{"x":0.68,"y":0.09,"t":"n"},{"x":0.76,"y":0.10,"t":"n"},{"x":0.84,"y":0.11,"t":"n"},{"x":0.92,"y":0.12,"t":"n"},{"x":1.0,"y":0.13,"t":"n"},{"x":0.52,"y":0.70,"t":"n"},{"x":0.54,"y":0.40,"t":"n"},{"x":0.55,"y":0.22,"t":"n"},{"x":0.5,"y":1.36,"t":"n"},{"x":0.57,"y":0.86,"t":"n"},{"x":0.58,"y":0.60,"t":"n"},{"x":0.57,"y":1.33,"t":"n"},{"x":0.61,"y":0.30,"t":"n"},{"x":0.62,"y":1.10,"t":"n"},{"x":0.63,"y":0.75,"t":"n"},{"x":0.64,"y":0.50,"t":"n"},{"x":0.65,"y":1.21,"t":"n"},{"x":0.66,"y":0.20,"t":"n"},{"x":0.68,"y":0.95,"t":"n"},{"x":0.7,"y":0.66,"t":"n"},{"x":0.71,"y":0.38,"t":"n"},{"x":0.72,"y":1.21,"t":"n"},{"x":0.74,"y":0.82,"t":"n"},{"x":0.75,"y":0.55,"t":"n"},{"x":0.76,"y":0.28,"t":"n"},{"x":0.78,"y":1.00,"t":"n"},{"x":0.8,"y":0.70,"t":"n"},{"x":0.81,"y":0.45,"t":"n"},{"x":0.83,"y":1.22,"t":"n"},{"x":0.85,"y":0.88,"t":"n"},{"x":0.86,"y":0.20,"t":"n"},{"x":0.88,"y":0.58,"t":"n"},{"x":0.9,"y":1.05,"t":"n"},{"x":0.91,"y":0.35,"t":"n"},{"x":0.93,"y":0.78,"t":"n"},{"x":0.95,"y":0.50,"t":"n"},{"x":0.97,"y":0.92,"t":"n"},{"x":0.98,"y":0.26,"t":"n"},{"x":0.6,"y":0.98,"t":"n"},{"x":0.7,"y":0.15,"t":"n"},{"x":0.58,"y":0.45,"t":"n"},{"x":0.85,"y":1.33,"t":"n"},
{"x":1.08,"y":0.14,"t":"n"},{"x":1.15,"y":0.15,"t":"n"},{"x":1.22,"y":0.16,"t":"n"},{"x":1.3,"y":0.17,"t":"n"},{"x":1.38,"y":0.18,"t":"n"},{"x":1.46,"y":0.20,"t":"n"},{"x":1.05,"y":1.19,"t":"n"},{"x":1.1,"y":1.18,"t":"n"},{"x":1.15,"y":0.67,"t":"n"},{"x":1.18,"y":0.47,"t":"n"},{"x":1.2,"y":0.94,"t":"n"},{"x":1.22,"y":0.33,"t":"n"},{"x":1.25,"y":0.87,"t":"n"},{"x":1.28,"y":0.58,"t":"n"},{"x":1.32,"y":0.26,"t":"n"},{"x":1.35,"y":0.45,"t":"n"},{"x":1.4,"y":0.71,"t":"n"},{"x":1.43,"y":0.92,"t":"n"},{"x":1.45,"y":0.38,"t":"n"},{"x":1.48,"y":0.90,"t":"n"},{"x":1.12,"y":0.28,"t":"n"},{"x":1.42,"y":0.55,"t":"n"},
{"x":1.52,"y":0.21,"t":"n"},{"x":1.6,"y":0.22,"t":"n"},{"x":1.68,"y":0.24,"t":"n"},{"x":1.76,"y":0.25,"t":"n"},{"x":1.84,"y":0.27,"t":"n"},{"x":1.92,"y":0.28,"t":"n"},{"x":1.55,"y":0.67,"t":"n"},{"x":1.6,"y":0.45,"t":"n"},{"x":1.65,"y":0.74,"t":"n"},{"x":1.7,"y":0.52,"t":"n"},{"x":1.72,"y":0.72,"t":"n"},{"x":1.78,"y":0.64,"t":"n"},{"x":1.82,"y":0.36,"t":"n"},{"x":1.85,"y":0.74,"t":"n"},{"x":1.9,"y":0.55,"t":"n"},{"x":1.95,"y":0.48,"t":"n"},{"x":1.98,"y":0.65,"t":"n"},{"x":1.58,"y":0.42,"t":"n"},{"x":1.68,"y":0.33,"t":"n"},
{"x":2.0,"y":0.30,"t":"n"},{"x":2.08,"y":0.31,"t":"n"},{"x":2.16,"y":0.32,"t":"n"},{"x":2.24,"y":0.34,"t":"n"},{"x":2.32,"y":0.36,"t":"n"},{"x":2.02,"y":0.85,"t":"n"},{"x":2.05,"y":0.52,"t":"n"},{"x":2.15,"y":0.99,"t":"n"},{"x":2.16,"y":0.95,"t":"n"},{"x":2.18,"y":0.78,"t":"n"},{"x":2.2,"y":0.63,"t":"n"},{"x":2.3,"y":0.72,"t":"n"},{"x":2.3,"y":0.87,"t":"n"},{"x":2.35,"y":0.77,"t":"n"},{"x":2.42,"y":0.52,"t":"n"},{"x":2.5,"y":0.45,"t":"n"},{"x":2.52,"y":0.95,"t":"n"},{"x":2.55,"y":0.97,"t":"n"},{"x":2.62,"y":0.94,"t":"n"},{"x":2.8,"y":0.70,"t":"n"},{"x":2.45,"y":0.44,"t":"n"},{"x":2.1,"y":0.53,"t":"n"},
{"x":-0.71,"y":3.17,"t":"n"},{"x":-0.95,"y":2.93,"t":"n"},{"x":0.65,"y":2.25,"t":"n"},{"x":-0.72,"y":2.11,"t":"n"},{"x":0.56,"y":2.04,"t":"n"},{"x":-0.96,"y":1.98,"t":"n"},{"x":-0.61,"y":1.89,"t":"n"},{"x":0.70,"y":1.84,"t":"n"},{"x":-0.39,"y":1.74,"t":"n"},{"x":-0.35,"y":1.51,"t":"n"},{"x":0.39,"y":1.47,"t":"n"},{"x":-0.34,"y":1.41,"t":"n"},{"x":-0.44,"y":1.39,"t":"n"},{"x":-0.85,"y":1.37,"t":"n"},
{"x":-3.04,"y":4.70,"t":"d"},{"x":-5.35,"y":2.86,"t":"d"},{"x":-2.88,"y":2.86,"t":"d"},{"x":-3.70,"y":2.52,"t":"d"},{"x":-1.49,"y":2.32,"t":"d"},{"x":-2.69,"y":2.26,"t":"d"},{"x":-2.55,"y":2.17,"t":"d"},{"x":-1.20,"y":2.16,"t":"d"},{"x":-3.42,"y":2.12,"t":"d"},{"x":-3.60,"y":2.08,"t":"d"},{"x":-2.66,"y":2.08,"t":"d"},{"x":-1.13,"y":1.95,"t":"d"},{"x":-1.72,"y":1.88,"t":"d"},{"x":-1.82,"y":1.83,"t":"d"},{"x":-3.02,"y":1.79,"t":"d"},{"x":-2.46,"y":1.68,"t":"d"},{"x":-3.10,"y":1.64,"t":"d"},{"x":-2.61,"y":1.60,"t":"d"},{"x":-1.95,"y":1.57,"t":"d"},{"x":-1.48,"y":1.55,"t":"d"},{"x":-2.44,"y":1.49,"t":"d"},{"x":-2.37,"y":1.46,"t":"d"},{"x":-1.12,"y":1.44,"t":"d"},{"x":-1.63,"y":1.39,"t":"d"},{"x":-1.76,"y":1.36,"t":"d"},{"x":-3.26,"y":1.35,"t":"d"},{"x":-2.93,"y":1.35,"t":"d"},{"x":-2.67,"y":1.35,"t":"d"},{"x":-1.49,"y":1.35,"t":"d"},{"x":-1.16,"y":1.35,"t":"d"},{"x":-1.02,"y":1.34,"t":"d"},{"x":-1.06,"y":1.32,"t":"d"},
{"x":4.02,"y":4.06,"t":"u"},{"x":1.00,"y":2.62,"t":"u"},{"x":0.99,"y":2.57,"t":"u"},{"x":1.16,"y":2.20,"t":"u"},{"x":1.32,"y":2.11,"t":"u"},{"x":1.22,"y":2.00,"t":"u"},{"x":1.06,"y":1.70,"t":"u"},{"x":1.87,"y":1.62,"t":"u"},{"x":1.52,"y":1.50,"t":"u"},{"x":1.73,"y":1.49,"t":"u"}
]
},
"hconcat": [
{
"spacing": 25,
"vconcat": [
{
"width": 547, "height": 1,
"data": {"values": []},
"mark": {"type": "point", "opacity": 0},
"title": {"text": "A", "orient": "bottom", "anchor": "start", "frame": "group", "baseline": "top", "dx": -83, "font": "Liberation Serif", "fontSize": 22, "fontWeight": "normal", "color": "#111", "offset": 8}
},
{
"width": 547, "height": 381,
"view": {"stroke": "#666", "strokeWidth": 1},
"layer": [
{"data": {"name": "a"}, "mark": {"type": "circle", "opacity": 1},
 "encoding": {
  "x": {"field": "x", "type": "quantitative", "scale": {"domain": [-32.8, 33.5], "nice": false, "zero": false},
        "axis": {"values": [-20, 0, 20], "labelExpr": "replace(datum.label, '−', '-')", "title": "log₂(fold change)", "grid": false, "labelFontSize": 16, "titleFontSize": 16, "titleFontWeight": "normal", "labelColor": "#333", "titleColor": "#222", "tickColor": "#333", "tickSize": 4, "domainColor": "#333", "labelPadding": 2, "titlePadding": 1}},
  "y": {"field": "y", "type": "quantitative", "scale": {"domain": [-1.65, 35.7], "nice": false, "zero": false},
        "axis": {"values": [0, 1.3, 12, 24], "format": ".1~f", "title": "− log₁₀(qvalue)", "grid": false, "labelOverlap": false, "labelFontSize": 16, "titleFontSize": 16, "titleFontWeight": "normal", "labelColor": "#333", "titleColor": "#222", "tickColor": "#333", "tickSize": 4, "domainColor": "#333", "labelPadding": 2, "titlePadding": 9}},
  "color": {"field": "t", "type": "nominal", "scale": {"domain": ["u", "d", "n"], "range": ["#F0143C", "#0A915F", "#0F64C8"]},
        "legend": {"values": ["u", "d"], "title": null, "labelExpr": "datum.label == 'u' ? 'up regulated: 843' : 'down regulated: 918'", "orient": "none", "legendX": 347, "legendY": 86, "labelFontSize": 16, "labelColor": "#111", "symbolSize": 16, "symbolType": "circle", "rowPadding": 2, "labelOffset": 9}},
  "size": {"field": "t", "type": "nominal", "scale": {"domain": ["u", "d", "n"], "range": [14, 14, 28]}, "legend": null}
 }},
{"data": {"name": "ar"}, "mark": {"type": "rule", "strokeDash": [6, 2, 1, 2], "color": "#555", "strokeWidth": 1},
 "encoding": {"y": {"field": "y", "type": "quantitative"}}}
]
}
]
},
{
"width": 428, "height": 470,
"title": {"text": "B", "orient": "left", "anchor": "end", "angle": 0, "align": "right", "baseline": "top", "dy": 9, "offset": -11, "font": "Liberation Serif", "fontSize": 22, "fontWeight": "normal", "color": "#111"},
"view": {"stroke": "#8c8c8c", "strokeWidth": 1},
"layer": [
{"data": {"name": "b"}, "mark": {"type": "circle", "opacity": 1, "size": 36},
 "encoding": {
  "x": {"field": "x", "type": "quantitative", "scale": {"domain": [-5.49, 5.54], "nice": false, "zero": false},
        "axis": {"values": [-5, -3.75, -2.5, -1.25, 0, 1.25, 2.5, 3.75, 5], "labelExpr": "abs(datum.value % 2.5) > 0.01 ? '' : replace(format(datum.value, '.1f'), '−', '-')", "gridColor": {"condition": {"test": "abs(datum.value % 2.5) > 0.01", "value": "#f4f4f4"}, "value": "#ebebeb"}, "tickOpacity": {"condition": {"test": "abs(datum.value % 2.5) > 0.01", "value": 0}, "value": 1}, "title": "log₂(fold change)", "labelFontSize": 11, "labelColor": "#4d4d4d", "tickColor": "#4d4d4d", "tickSize": 3, "domain": false, "titleFontSize": 13, "titleFontWeight": "normal", "titleColor": "#222", "labelPadding": 2, "titlePadding": 1}},
  "y": {"field": "y", "type": "quantitative", "scale": {"domain": [-0.23, 4.95], "nice": false, "zero": false},
        "axis": {"values": [0, 0.5, 1, 1.5, 2, 2.5, 3, 3.5, 4, 4.5], "labelExpr": "datum.value % 1 != 0 ? '' : format(datum.value, 'd')", "gridColor": {"condition": {"test": "datum.value % 1 != 0", "value": "#f4f4f4"}, "value": "#ebebeb"}, "tickOpacity": {"condition": {"test": "datum.value % 1 != 0", "value": 0}, "value": 1}, "title": "− log₁₀(pval)", "labelFontSize": 11, "labelColor": "#4d4d4d", "tickColor": "#4d4d4d", "tickSize": 3, "domain": false, "titleFontSize": 13, "titleFontWeight": "normal", "titleColor": "#222", "labelPadding": 2, "titlePadding": 6}},
  "color": {"field": "t", "type": "nominal", "scale": {"domain": ["u", "d", "n"], "range": ["#FF0000", "#00FF00", "#0000FF"]},
        "legend": {"values": ["u", "d"], "title": "type", "labelExpr": "datum.label == 'u' ? 'up: 10' : 'down: 32'", "orient": "none", "legendX": 445, "legendY": 208, "titleFontSize": 13, "titleFontWeight": "normal", "titleColor": "#222", "titlePadding": 8, "labelFontSize": 10, "labelColor": "#222", "symbolSize": 30, "symbolType": "circle", "rowPadding": 8, "labelOffset": 14}}
 }},
{"data": {"name": "bv"}, "mark": {"type": "rule", "strokeDash": [5, 3], "color": "#333", "strokeWidth": 1.2},
 "encoding": {"x": {"field": "x", "type": "quantitative"}}},
{"data": {"name": "bh"}, "mark": {"type": "rule", "strokeDash": [5, 3], "color": "#333", "strokeWidth": 1.2},
 "encoding": {"y": {"field": "y", "type": "quantitative"}}}
]
}
]
}
